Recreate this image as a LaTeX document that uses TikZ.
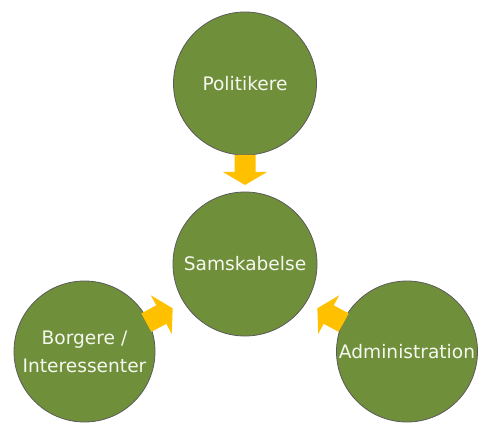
\documentclass[tikz,border=0pt]{standalone}
\usepackage{fontspec}
\setmainfont{DejaVu Sans}
\definecolor{circgreen}{RGB}{112,143,59}
\definecolor{circedge}{RGB}{90,90,90}
\definecolor{arrowgold}{RGB}{255,192,0}
\definecolor{txtwhite}{RGB}{245,248,240}
\begin{document}
\begin{tikzpicture}[x=1pt,y=1pt,
  bubble/.style={circle,fill=circgreen,draw=circedge,line width=0.8pt,inner sep=0pt,
    text=txtwhite,font=\fontsize{18.6}{28}\selectfont,align=center},
  blockarrow/.pic={\fill[arrowgold] (-15,-10.5) -- (2,-10.5) -- (2,-22) -- (15,0) -- (2,22) -- (2,10.5) -- (-15,10.5) -- cycle;}]
\useasboundingbox (0,0) rectangle (478,423);
\node[bubble,minimum size=143pt] (pol) at (245,339.5) {Politikere};
\node[bubble,minimum size=144pt] (sam) at (245,159) {Samskabelse};
\node[bubble,minimum size=141pt] (bor) at (84.5,71.5) {Borgere /\\Interessenter};
\node[bubble,minimum size=141pt] (adm) at (407,71.5) {Administration};
\pic[rotate=-90] at (245,253) {blockarrow};
\pic[rotate=28.5] at (159.5,107.5) {blockarrow};
\pic[rotate=151.5] at (330.5,107.5) {blockarrow};
\end{tikzpicture}
\end{document}
